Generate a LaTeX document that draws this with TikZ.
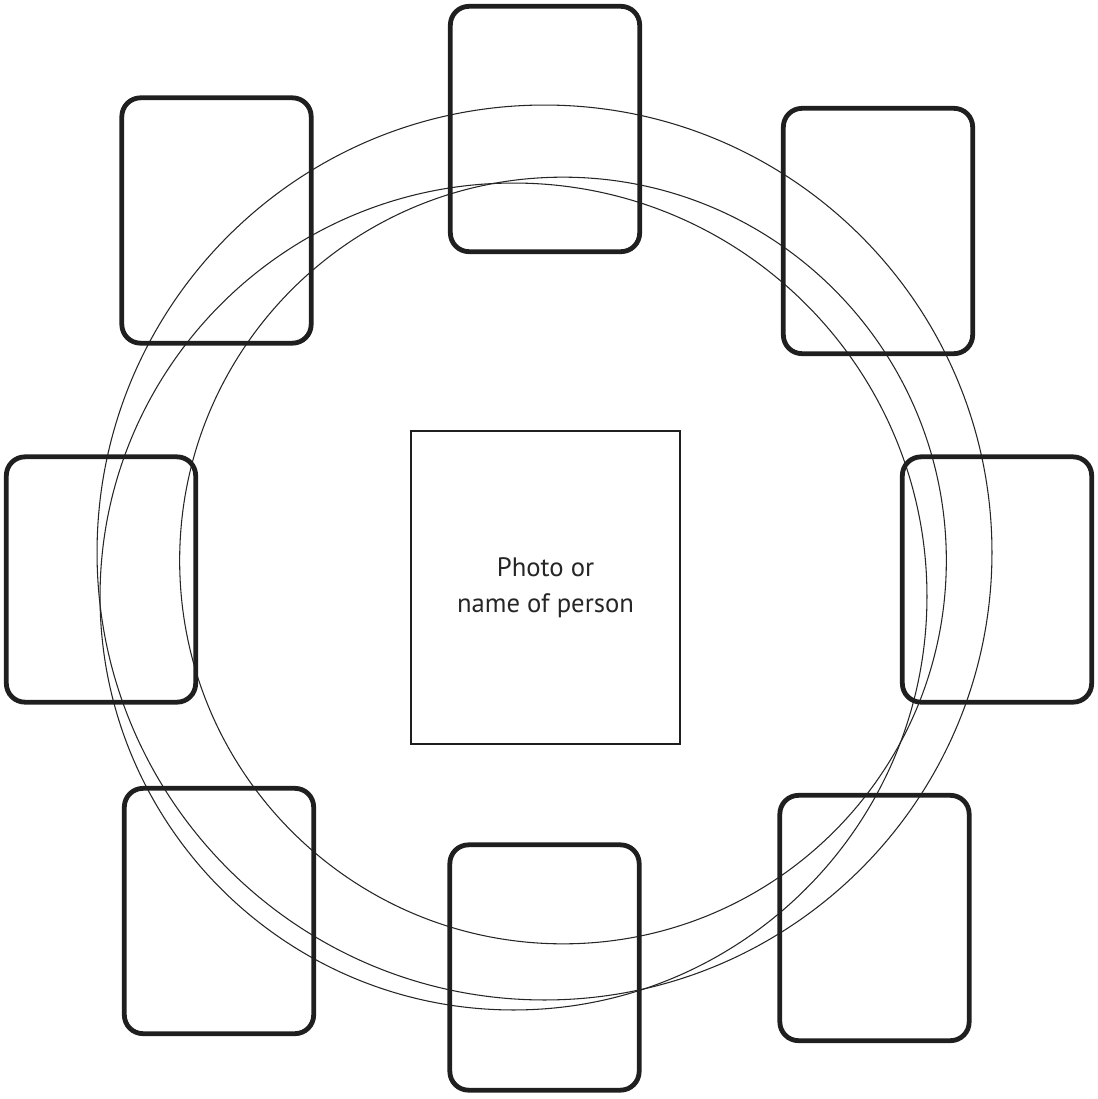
\documentclass[tikz,border=0pt]{standalone}
\usepackage{fontspec}
\setmainfont{PT Sans}
\begin{document}
\begin{tikzpicture}[x=0.75pt,y=-0.75pt,
  seat/.style={draw=black!88, line width=3.6pt, rounded corners=14pt,
    minimum width=142pt, minimum height=184pt, inner sep=0pt},
  ring/.style={draw=black!85, line width=0.8pt},
  photo/.style={draw=black!88, line width=1.5pt, minimum width=202pt,
    minimum height=235pt, inner sep=0pt, align=center,
    font=\fontsize{20pt}{27pt}\selectfont, text=black!85}]
\useasboundingbox (0,0) rectangle (1097,1099);
% rings
\draw[ring] (544.5,552.5) circle (335.6pt);
\draw[ring] (563,560.5) circle (287.5pt);
\draw[ring] (513.5,596.5) circle (310.1pt);
% seats
\node[seat] (s1) at (545,129) {};
\node[seat] (s2) at (216.5,220.5) {};
\node[seat] (s3) at (878,231) {};
\node[seat] (s4) at (101,579.5) {};
\node[seat] (s5) at (997,579.5) {};
\node[seat] (s6) at (219,911) {};
\node[seat] (s7) at (544.5,967.5) {};
\node[seat] (s8) at (874.5,918) {};
% centre
\node[photo] (p) at (545.5,587.5) {Photo or\\name of person};
\end{tikzpicture}
\end{document}
